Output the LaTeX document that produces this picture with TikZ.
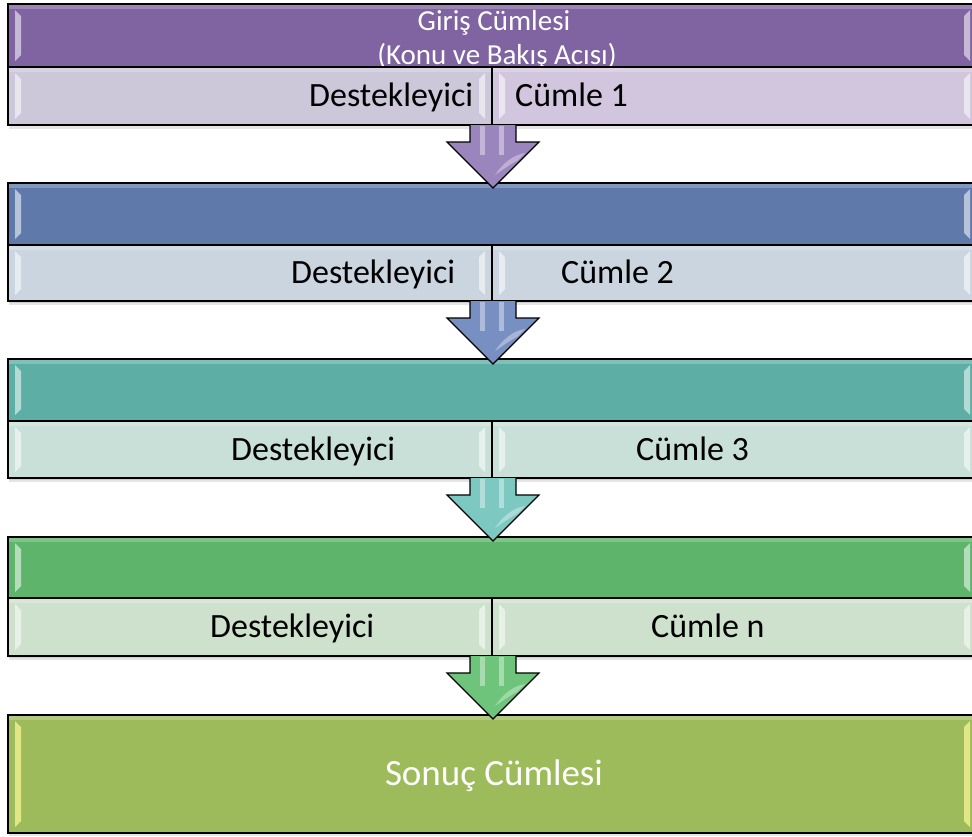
\documentclass[tikz,border=0pt]{standalone}
\usepackage{fontspec}
\setmainfont{Carlito}
\usetikzlibrary{calc}

\definecolor{hdA}{HTML}{8064A2}\definecolor{sbA}{HTML}{CDC7DA}\definecolor{sbAr}{HTML}{D1C6DD}\definecolor{arA}{HTML}{9A85BD}
\definecolor{hdB}{HTML}{5F7AAA}\definecolor{sbB}{HTML}{CAD5DF}\definecolor{arB}{HTML}{7890C1}
\definecolor{hdC}{HTML}{5DAFA5}\definecolor{sbC}{HTML}{C9E0D8}\definecolor{arC}{HTML}{7DC9C1}
\definecolor{hdD}{HTML}{5DB46A}\definecolor{sbD}{HTML}{CEE1CC}\definecolor{arD}{HTML}{6DC47A}
\definecolor{endc}{HTML}{9DBB5B}

\tikzset{
  cell/.style={draw=black, line width=1.3pt, inner sep=0pt, outer sep=0pt, anchor=north west},
  sheen/.style={fill=white, opacity=.55},
  subtext/.style={anchor=base west, inner sep=0pt, font=\fontsize{34}{40}\selectfont},
  headtext/.style={anchor=base, inner sep=0pt, text=white, font=\fontsize{29}{34}\selectfont},
  arrowbody/.style={draw=black, line width=1.1pt, line join=miter},
}

% glossy strips at both ends of a bar: x0 y0 x1 y1
\newcommand\barsheen[4]{%
  \fill[sheen] (#1+7,#2+6) -- (#1+13,#2+12) -- (#1+13,#4-12) -- (#1+7,#4-6) -- cycle;
  \fill[sheen] (#3-7,#2+6) -- (#3-13,#2+12) -- (#3-13,#4-12) -- (#3-7,#4-6) -- cycle;
  \fill[white,opacity=.22] (#1+1,#2+1) rectangle (#3-1,#2+5);
}

% one block: name, top, middle, bottom, header colour, row colour
\newcommand\flowblock[6]{%
  \fill[black,opacity=.10] (9,#2+2) rectangle (977,#4+4);
  \fill[black,opacity=.10] (9,#2+1) rectangle (977,#4+2);
  \node[cell, fill=#5, minimum width=969pt, minimum height={(#3-#2)*1pt}] (#1h) at (8,#2) {};
  \barsheen{8}{#2}{977}{#3}
  \node[cell, fill=#6, minimum width=484pt, minimum height={(#4-#3)*1pt}] (#1l) at (8,#3) {};
  \node[cell, fill=#6, minimum width=485pt, minimum height={(#4-#3)*1pt}] (#1r) at (492,#3) {};
  \barsheen{8}{#3}{492}{#4}
  \barsheen{492}{#3}{977}{#4}
}

% block arrow hanging from a named point
\newcommand\flowarrow[2]{%
  \begin{scope}[shift={(#1)}]
    \draw[arrowbody, fill=#2] (-23,0) -- (-23,17) -- (-46,17) -- (0,63) -- (46,17) -- (23,17) -- (23,0);
    \fill[white,opacity=.4] (-13,1) rectangle (-8,30);
    \fill[white,opacity=.4] (6,1) rectangle (11,30);
    \fill[white,opacity=.35] (2,50) .. controls (10,38) and (20,30) .. (32,28) -- (24,36) .. controls (16,40) and (8,46) .. (2,50);
  \end{scope}
}

\begin{document}
\begin{tikzpicture}[x=1pt,y=-1pt]
  \useasboundingbox (0,0) rectangle (972,836);
  \begin{scope}
  \clip (0,0) rectangle (972,836);

  % first block: header text sits under the row below it
  \fill[black,opacity=.10] (9,5) rectangle (977,129);
  \node[cell, fill=hdA, minimum width=969pt, minimum height=63pt] (ah) at (8,4) {};
  \barsheen{8}{4}{977}{67}
  \node[headtext] (giris) at (494,30) {Giriş Cümlesi};
  \node[headtext] (konu) at (497,64) {(Konu ve Bakış Acısı)};
  \node[cell, fill=sbA, minimum width=484pt, minimum height=58pt] (al) at (8,67) {};
  \node[cell, fill=sbAr, minimum width=485pt, minimum height=58pt] (ar) at (492,67) {};
  \barsheen{8}{67}{492}{125}
  \barsheen{492}{67}{977}{125}
  \node[subtext] (t1a) at (309,106) {Destekleyici};
  \node[subtext] (t1b) at (515,106) {Cümle 1};

  \flowblock{b}{183}{245}{301}{hdB}{sbB}
  \node[subtext] (t2a) at (291,283) {Destekleyici};
  \node[subtext] (t2b) at (561,283) {Cümle 2};

  \flowblock{c}{359}{421}{478}{hdC}{sbC}
  \node[subtext] (t3a) at (231,460) {Destekleyici};
  \node[subtext] (t3b) at (636,460) {Cümle 3};

  \flowblock{d}{537}{598}{656}{hdD}{sbD}
  \node[subtext] (t4a) at (210,637) {Destekleyici};
  \node[subtext] (t4b) at (651,637) {Cümle n};

  % closing sentence
  \fill[black,opacity=.10] (9,716) rectangle (977,836);
  \node[cell, fill=endc, minimum width=969pt, minimum height=118pt] (e) at (8,715) {};
  \fill[yellow!40!white,opacity=.7] (15,721) -- (21,727) -- (21,821) -- (15,827) -- cycle;
  \fill[yellow!40!white,opacity=.7] (970,721) -- (964,727) -- (964,821) -- (970,827) -- cycle;
  \fill[white,opacity=.22] (9,716) rectangle (976,720);
  \node[anchor=base, inner sep=0pt, text=white, font=\fontsize{37}{42}\selectfont] (sonuc) at (494,785) {Sonuç Cümlesi};

  % arrows between the blocks
  \coordinate (a1) at (al.south east);
  \coordinate (a2) at (bl.south east);
  \coordinate (a3) at (cl.south east);
  \coordinate (a4) at (dl.south east);
  \flowarrow{$(a1)+(1,0)$}{arA}
  \flowarrow{$(a2)+(1,0)$}{arB}
  \flowarrow{$(a3)+(1,0)$}{arC}
  \flowarrow{$(a4)+(1,0)$}{arD}
  \end{scope}
\end{tikzpicture}
\end{document}
